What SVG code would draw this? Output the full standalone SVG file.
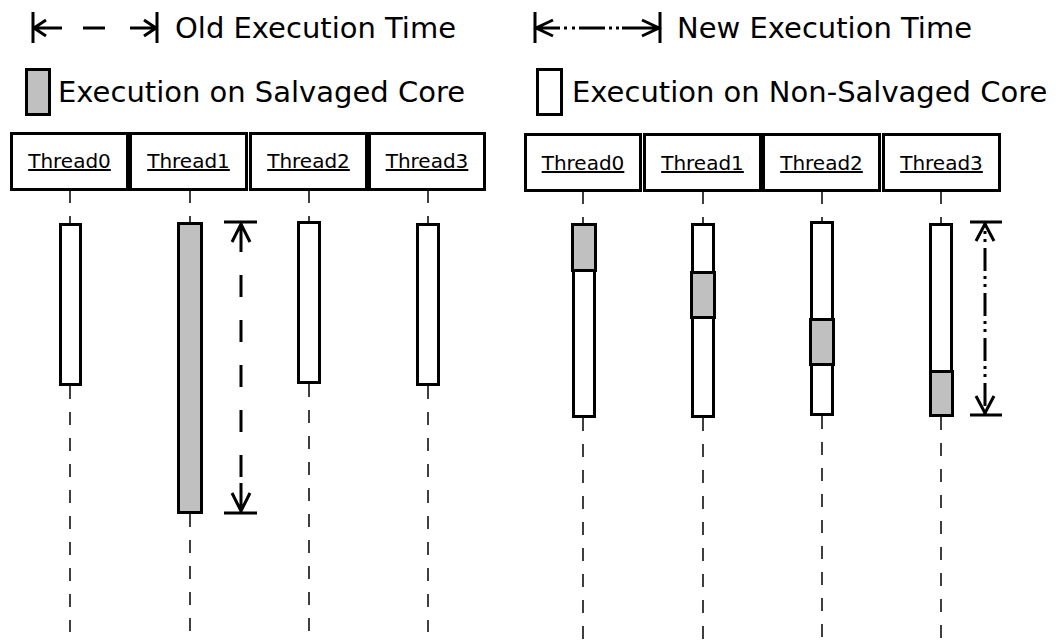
<svg xmlns="http://www.w3.org/2000/svg" width="1058" height="643" viewBox="0 0 1058 643">
<style>
text{font-family:"DejaVu Sans","Liberation Sans",sans-serif;fill:#000}
.leg{font-size:29px}
.hdr{font-size:20px;text-anchor:middle;text-decoration:underline;text-underline-offset:4px;text-decoration-thickness:1.5px}
.box{fill:#fff;stroke:#000;stroke-width:3}
.act{fill:#fff;stroke:#000;stroke-width:3}
.sal{fill:#c0c0c0;stroke:#000;stroke-width:3}
.life{fill:none;stroke:#000;stroke-width:1.5;stroke-dasharray:13 13}
.thick{fill:none;stroke:#000;stroke-width:3}
.oldd{fill:none;stroke:#000;stroke-width:3;stroke-dasharray:22 23}
.newd{fill:none;stroke:#000;stroke-width:3;stroke-dasharray:23 5 3 5 3 6;stroke-dashoffset:20}
</style>
<rect width="1058" height="643" fill="#fff"/>

<g id="legend">
  <path class="thick" d="M33 12V43 M157 12V43 M33 28H62 M83 28H105 M130 28H157 M46 20L34 28L46 36 M144 20L156 28L144 36"/>
  <text class="leg" x="175" y="38">Old Execution Time</text>
  <path class="thick" d="M535 12V43 M660 12V43 M535 28H560 M564 28H567 M572 28H575 M579 28H605 M609 28H612 M616 28H619 M622 28H659 M553 20L536 28L553 36 M642 20L659 28L642 36"/>
  <text class="leg" x="677" y="38">New Execution Time</text>
  <rect class="sal" x="26.5" y="69.5" width="23" height="45"/>
  <text class="leg" x="58" y="102">Execution on Salvaged Core</text>
  <rect class="act" x="537.5" y="69.5" width="24" height="45"/>
  <text class="leg" x="572" y="102">Execution on Non-Salvaged Core</text>
</g>

<g id="connectors">
  <path class="life" d="M70 190V224 M70 386V632"/>
  <path class="life" d="M190 190V222 M190 514V632"/>
  <path class="life" d="M309 190V221 M309 384V632"/>
  <path class="life" d="M428 190V223 M428 386V632"/>
  <path class="life" d="M583 191V224 M583 418V639"/>
  <path class="life" d="M703 191V224 M703 418V639"/>
  <path class="life" d="M822 191V222 M822 416V639"/>
  <path class="life" d="M941 191V224 M941 417V639"/>
  <g id="old-time">
    <path class="thick" d="M224 222H257 M224 513H257 M241 223V252 M241 483V512 M232 242L241 224L250 242 M232 493L241 511L250 493"/>
    <path class="oldd" d="M241 275V478"/>
  </g>
  <g id="new-time">
    <path class="thick" d="M970 222H1002 M970 415H1002 M976 241L985 224L994 241 M976 396L985 413L994 396"/>
    <path class="newd" d="M985 223V415"/>
  </g>
</g>

<g id="left-thread0"><rect class="box" x="11.5" y="133.5" width="116" height="56"/><text class="hdr" x="69.5" y="168">Thread0</text></g>
<g id="left-thread1"><rect class="box" x="130.5" y="133.5" width="116" height="56"/><text class="hdr" x="188.5" y="168">Thread1</text></g>
<g id="left-thread2"><rect class="box" x="250.5" y="133.5" width="116" height="56"/><text class="hdr" x="308.5" y="168">Thread2</text></g>
<g id="left-thread3"><rect class="box" x="369.5" y="133.5" width="115" height="56"/><text class="hdr" x="427" y="168">Thread3</text></g>

<g id="right-thread0"><rect class="box" x="525.5" y="134.5" width="115" height="56"/><text class="hdr" x="583" y="170">Thread0</text></g>
<g id="right-thread1"><rect class="box" x="644.5" y="134.5" width="116" height="56"/><text class="hdr" x="702.5" y="170">Thread1</text></g>
<g id="right-thread2"><rect class="box" x="763.5" y="134.5" width="116" height="56"/><text class="hdr" x="821.5" y="170">Thread2</text></g>
<g id="right-thread3"><rect class="box" x="883.5" y="134.5" width="116" height="56"/><text class="hdr" x="941.5" y="170">Thread3</text></g>

<g id="old-exec0"><rect class="act" x="60.5" y="224.5" width="20" height="160"/></g>
<g id="old-exec1"><rect class="sal" x="178.5" y="223.5" width="23" height="289"/></g>
<g id="old-exec2"><rect class="act" x="298.5" y="222.5" width="21" height="160"/></g>
<g id="old-exec3"><rect class="act" x="417.5" y="224.5" width="21" height="160"/></g>

<g id="new-exec0"><rect class="act" x="573.5" y="224.5" width="21" height="192"/><rect class="sal" x="572.5" y="224.5" width="23" height="46"/></g>
<g id="new-exec1"><rect class="act" x="692.5" y="224.5" width="21" height="192"/><rect class="sal" x="691.5" y="272.5" width="23" height="45"/></g>
<g id="new-exec2"><rect class="act" x="811.5" y="222.5" width="21" height="192"/><rect class="sal" x="810.5" y="319.5" width="23" height="45"/></g>
<g id="new-exec3"><rect class="act" x="930.5" y="224.5" width="21" height="191"/><rect class="sal" x="930.5" y="371.5" width="22" height="44"/></g>
</svg>
